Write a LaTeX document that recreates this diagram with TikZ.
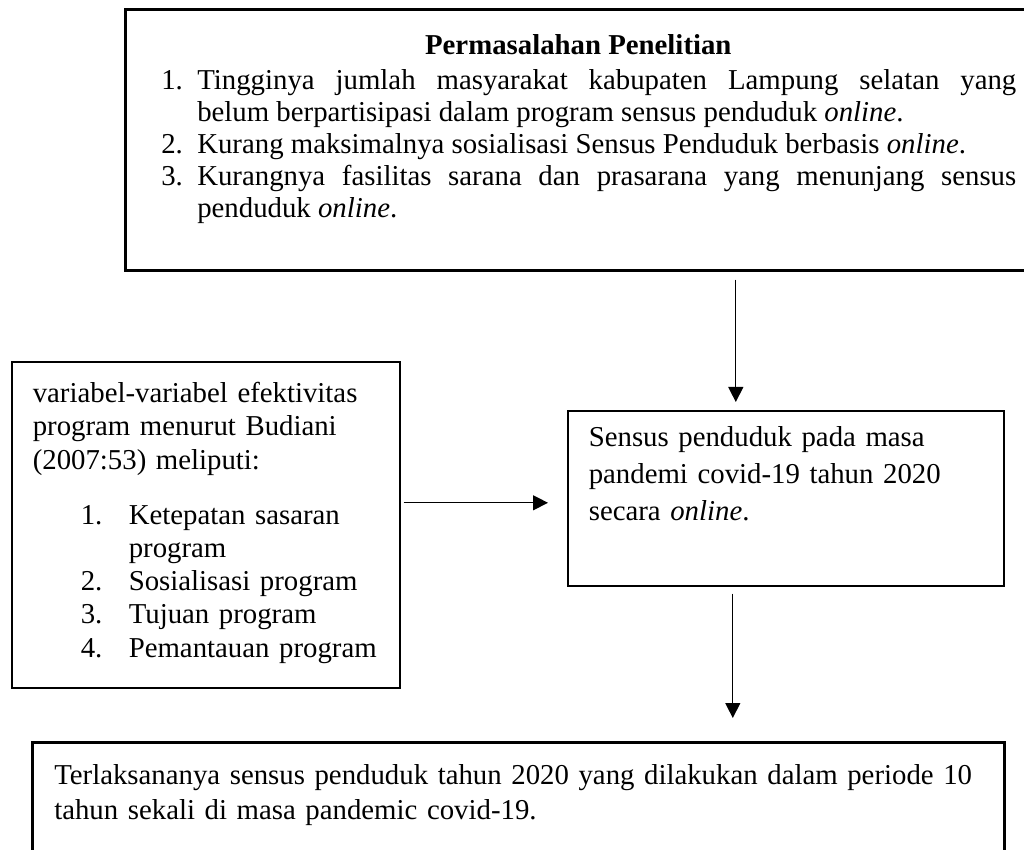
\documentclass[tikz,border=0pt]{standalone}
\usepackage{fontspec}
\setmainfont{Liberation Serif}
\usepackage{tikz}
\usetikzlibrary{arrows.meta, positioning, calc}
\hyphenpenalty=10000
\exhyphenpenalty=10000
\tikzset{
  blk/.style={draw, anchor=north west, inner ysep=0pt, align=left,
              font=\fontsize{14.4pt}{16.6pt}\selectfont},
  arr/.style={-{Triangle[length=7.5pt,width=7.5pt]}, line width=0.6pt}
}
\newcommand{\probitem}[2]{\par\hangindent=18pt\hangafter=1\noindent\makebox[18pt][l]{#1}#2}

\begin{document}
\begin{tikzpicture}[x=0.5pt,y=-0.5pt]
  \useasboundingbox (0,0) rectangle (1024,850);
  \clip (0,0) rectangle (1024,850);
  \node[blk,line width=1.3pt,inner xsep=18pt,text width=427.5pt,text height=22.5pt,text depth=108pt,
        align=justify,font=\fontsize{14.4pt}{16pt}\selectfont] (A) at (124,8)
    {\tolerance=10000\spaceskip=0.25em plus 1em{\centering\hspace*{-10.5pt}\textbf{Permasalahan Penelitian}\par}\vspace{1.5pt}%
     \probitem{1.}{Tingginya jumlah masyarakat kabupaten Lampung selatan yang\linebreak belum berpartisipasi dalam program sensus penduduk \textit{online}.}%
     \probitem{2.}{Kurang maksimalnya sosialisasi Sensus Penduduk berbasis \textit{online}.}%
     \probitem{3.}{Kurangnya fasilitas sarana dan prasarana yang menunjang sensus penduduk \textit{online}.}\par};
  \node[blk,line width=0.8pt,inner xsep=8pt,text width=178pt,text height=20.5pt,text depth=142.5pt] (B) at (11,361)
    {\leftskip=2.5pt variabel-variabel efektivitas\\program menurut Budiani\\(2007:53) meliputi:\\[11pt]
     \hspace*{24pt}\makebox[24pt][l]{1.}Ketepatan~sasaran\\
     \hspace*{48pt}program\\
     \hspace*{24pt}\makebox[24pt][l]{2.}Sosialisasi~program\\
     \hspace*{24pt}\makebox[24pt][l]{3.}Tujuan~program\\
     \hspace*{24pt}\makebox[24pt][l]{4.}Pemantauan~program\par};
  \node[blk,line width=0.8pt,inner xsep=10.5pt,text width=197pt,text height=18pt,text depth=69.5pt,
        font=\fontsize{14.4pt}{18.5pt}\selectfont] (C) at (567,410)
    {Sensus penduduk pada masa\\pandemi covid-19 tahun 2020\\secara \textit{online}.};
  \node[blk,line width=1.3pt,inner xsep=11pt,text width=464pt,text height=21pt,text depth=60pt,
        font=\fontsize{14.4pt}{17.5pt}\selectfont] (D) at (31,741)
    {Terlaksananya sensus penduduk tahun 2020 yang dilakukan dalam periode~10\\tahun sekali di masa pandemic covid-19.};
  \draw[arr,shorten <=4pt,shorten >=4pt]([xshift=-25pt]C.north |- A.south)--([xshift=-25pt]C.north);
  \draw[arr,shorten <=1.5pt,shorten >=9.5pt]([yshift=11pt]B.east)--([yshift=11pt]B.east -| C.west);
  \draw[arr,shorten <=3.5pt,shorten >=11.5pt]([xshift=-26.5pt]C.south)--([xshift=-26.5pt]C.south |- D.north);
\end{tikzpicture}
\end{document}
